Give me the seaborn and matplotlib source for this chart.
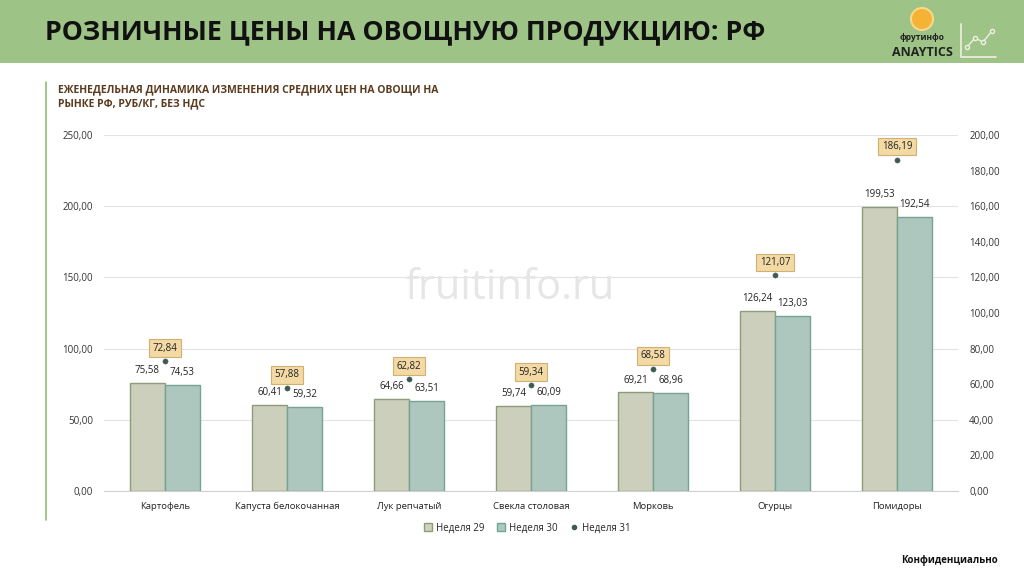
import numpy as np
import pandas as pd
import matplotlib
matplotlib.use("Agg")
import matplotlib.pyplot as plt
from matplotlib.patches import Rectangle, Ellipse
from matplotlib.lines import Line2D
import seaborn as sns

categories = ["Картофель", "Капуста белокочанная", "Лук репчатый", "Свекла столовая",
              "Морковь", "Огурцы", "Помидоры"]
week29 = [75.58, 60.41, 64.66, 59.74, 69.21, 126.24, 199.53]
week30 = [74.53, 59.32, 63.51, 60.09, 68.96, 123.03, 192.54]
week31 = [72.84, 57.88, 62.82, 59.34, 68.58, 121.07, 186.19]
series_names = ["Неделя 29", "Неделя 30", "Неделя 31"]
left_ticks = [0, 50, 100, 150, 200, 250]
right_ticks = [0, 20, 40, 60, 80, 100, 120, 140, 160, 180, 200]

def fmt(v):
    return f"{v:.2f}".replace(".", ",")

def main():
    sns.set_style("white")
    plt.rcParams["font.family"] = ["Open Sans", "DejaVu Sans"]

    fig = plt.figure(figsize=(10.24, 5.76), dpi=100)
    W, H = 1024, 576

    # header band
    fig.patches.append(Rectangle((0, 1 - 63 / H), 1, 63 / H, transform=fig.transFigure,
                                 facecolor="#9dc486", edgecolor="none", zorder=0))
    fig.text(45 / W, 1 - 32 / H, "РОЗНИЧНЫЕ ЦЕНЫ НА ОВОЩНУЮ ПРОДУКЦИЮ: РФ",
             fontsize=19.3, fontweight="bold", color="#111111", va="center", ha="left")

    # logo
    fig.patches.append(Ellipse((922 / W, 1 - 19 / H), 22 / W, 22 / H, transform=fig.transFigure,
                               facecolor="#f5b335", edgecolor="#f8d98a", lw=1.5, zorder=2))
    fig.text(922 / W, 1 - 38 / H, "фрутинфо", fontsize=6, fontweight="bold",
             ha="center", va="center", color="#222222")
    fig.text(922 / W, 1 - 52 / H, "ANAYTICS", fontsize=9, fontweight="bold",
             ha="center", va="center", color="#222222")
    fig.lines.append(Line2D([961 / W, 961 / W, 996 / W], [1 - 24 / H, 1 - 57 / H, 1 - 57 / H],
                            transform=fig.transFigure, color="#f0f0e0", lw=1.2))
    fig.lines.append(Line2D([967 / W, 975 / W, 983 / W, 992 / W],
                            [1 - 47 / H, 1 - 38 / H, 1 - 42 / H, 1 - 31 / H],
                            transform=fig.transFigure, color="#f0f0e0", lw=1.0,
                            marker="o", ms=3, mfc="#9dc486", mec="#f0f0e0"))

    # subtitle + left accent line
    fig.lines.append(Line2D([46 / W, 46 / W], [1 - 82 / H, 1 - 520 / H],
                            transform=fig.transFigure, color="#8fbf73", lw=1.2))
    fig.text(58 / W, 1 - 90 / H, "ЕЖЕНЕДЕЛЬНАЯ ДИНАМИКА ИЗМЕНЕНИЯ СРЕДНИХ ЦЕН НА ОВОЩИ НА",
             fontsize=7.5, fontweight="bold", color="#5b3a1e", va="center")
    fig.text(58 / W, 1 - 104 / H, "РЫНКЕ РФ, РУБ/КГ, БЕЗ НДС",
             fontsize=7.5, fontweight="bold", color="#5b3a1e", va="center")

    fig.text(510 / W, 1 - 288 / H, "fruitinfo.ru", fontsize=30, color="#e6e6e6",
             ha="center", va="center", zorder=0)

    ax = fig.add_axes([104 / W, 1 - 491 / H, 854 / W, 356 / H])
    df = pd.DataFrame({
        "cat": categories * 2,
        "value": week29 + week30,
        "week": [series_names[0]] * len(categories) + [series_names[1]] * len(categories),
    })
    bar_colors = ["#cfd2b8", "#a9cbbf"]
    edge_colors = ["#8c9b7a", "#76a394"]
    sns.barplot(data=df, x="cat", y="value", hue="week", order=categories,
                palette=bar_colors, width=0.574, gap=0, ax=ax, legend=False, zorder=3)
    for cont, ec, vals in zip(ax.containers, edge_colors, [week29, week30]):
        for p in cont:
            p.set_edgecolor(ec)
            p.set_linewidth(1.0)
        ax.bar_label(cont, labels=[fmt(v) for v in vals], padding=5, fontsize=7, color="#222222")

    ax.set_ylim(0, 250)
    ax.set_yticks(left_ticks)
    ax.set_yticklabels([fmt(t) for t in left_ticks], fontsize=7, color="#333333")
    ax.set_xlim(-0.5, len(categories) - 0.5)
    ax.set_xticks(range(len(categories)))
    ax.set_xticklabels(categories, fontsize=6.8, color="#222222")
    ax.set_xlabel("")
    ax.set_ylabel("")
    ax.grid(axis="y", color="#e3e3e3", lw=0.8, zorder=0)
    ax.set_axisbelow(True)
    for s in ["top", "right", "left"]:
        ax.spines[s].set_visible(False)
    ax.spines["bottom"].set_color("#d0d0d0")
    ax.tick_params(axis="both", length=0, pad=8)
    ax.patch.set_alpha(0)

    ax2 = ax.twinx()
    sns.scatterplot(x=np.arange(len(categories)), y=week31, ax=ax2, color="#3e5b50",
                    s=14, edgecolor="#3e5b50", zorder=5, legend=False)
    for i, v in enumerate(week31):
        ax2.annotate(fmt(v), (i, v), xytext=(0, 13), textcoords="offset pixels",
                     ha="center", va="center", fontsize=7, color="#222222",
                     bbox=dict(boxstyle="square,pad=0.35", fc="#f3d9a4", ec="#d2b071", lw=0.8))
    ax2.set_ylim(0, 200)
    ax2.set_yticks(right_ticks)
    ax2.set_yticklabels([fmt(t) for t in right_ticks], fontsize=7, color="#333333")
    ax2.set_ylabel("")
    ax2.tick_params(axis="y", length=0, pad=8)
    for s in ax2.spines.values():
        s.set_visible(False)

    handles = [
        Line2D([], [], marker="s", ls="none", ms=6, mfc=bar_colors[0], mec=edge_colors[0]),
        Line2D([], [], marker="s", ls="none", ms=6, mfc=bar_colors[1], mec=edge_colors[1]),
        Line2D([], [], marker="o", ls="none", ms=3, mfc="#3e5b50", mec="#3e5b50"),
    ]
    fig.legend(handles, series_names, loc="center", bbox_to_anchor=(527 / W, 1 - 528 / H),
               ncol=3, frameon=False, fontsize=7, handletextpad=0.3, columnspacing=1.2,
               handlelength=1.0)

    fig.text(998 / W, 1 - 561 / H, "Конфиденциально", fontsize=7, fontweight="bold",
             ha="right", va="center", color="#111111")

    fig.savefig("out.png", dpi=100)

if __name__ == "__main__":
    main()
